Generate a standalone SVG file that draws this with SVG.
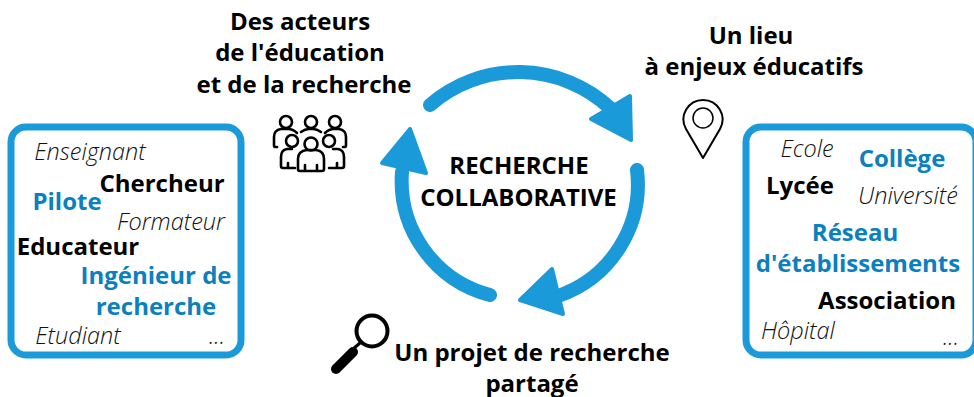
<svg xmlns="http://www.w3.org/2000/svg" width="974" height="397" viewBox="0 0 974 397">
<style>
text{font-family:"Open Sans","Liberation Sans",sans-serif;text-anchor:middle}
.b{font-weight:700;font-size:24px;fill:#000}
.p{font-weight:700;font-size:24px;fill:#0b80bf}
.i{font-weight:300;font-style:italic;font-size:23.500px;fill:#111}
.box{fill:#fff;stroke:#1b9ad9;stroke-width:7}
.arc{fill:none;stroke:#1b9ad9;stroke-width:14;stroke-linecap:round}
.head{fill:#1b9ad9;stroke:#1b9ad9;stroke-width:4;stroke-linejoin:round}
.ico{fill:none;stroke:#000;stroke-width:2.600;stroke-linejoin:round;stroke-linecap:round}
</style>
<g id="connectors">
<path class="arc" d="M430 105A135 135 0 0 1 610 108"/>
<polygon class="head" points="630,96 591,119 631,140"/>
<path class="arc" d="M637 170A118 118 0 0 1 558 296"/>
<polygon class="head" points="552,269 520,300 563,314"/>
<path class="arc" d="M490 295A118 118 0 0 1 402 172"/>
<polygon class="head" points="410,129 382,163 426,173"/>
</g>
<g id="center"><text class="b" x="519" y="174">RECHERCHE</text><text class="b" x="518.500" y="206">COLLABORATIVE</text></g>
<g id="acteurs-title"><text class="b" x="300" y="30">Des acteurs</text><text class="b" x="300" y="61">de l'éducation</text><text class="b" x="304" y="93">et de la recherche</text></g>
<g id="lieu-title"><text class="b" x="751" y="44">Un lieu</text><text class="b" x="754" y="75">à enjeux éducatifs</text></g>
<g id="projet-title"><text class="b" x="532" y="361">Un projet de recherche</text><text class="b" x="532" y="391.500">partagé</text></g>
<g id="people-icon" class="ico">
<circle cx="286" cy="122" r="6"/><circle cx="311" cy="122" r="6"/><circle cx="335" cy="122" r="6"/>
<path d="M277 147h-2q-1 0-1-2v-8q0-7 7-8h7q5 0 9 4M301 132q4-3 8-3h4q4 0 8 3M325 133q4-4 9-4h5q7 1 7 8v8q0 2-1 2h-2"/>
<circle cx="292" cy="141" r="6"/><circle cx="311" cy="144" r="6.500"/><circle cx="329" cy="141" r="6"/>
<path d="M295 168h-12q-2 0-2-2v-9q0-7 6-8h5M342 168q2 0 2-2v-9q0-7-6-8h-5M342 168h-13M288 168v-5M337 168v-5"/>
<path d="M300 171q-2 0-2-2v-10q0-8 9-9h9q8 1 8 9v10q0 2-2 2zM305 171v-6M317 171v-6"/>
</g>
<g id="pin-icon">
<path class="ico" style="stroke-width:2" d="M703 158L686 129A19.500 19.500 0 1 1 720 129Z"/>
<circle class="ico" style="stroke-width:1.500" cx="703" cy="118" r="10"/>
</g>
<g id="loupe-icon">
<circle cx="372" cy="331" r="15.500" fill="none" stroke="#000" stroke-width="4"/>
<path d="M360 343L353 349" stroke="#000" stroke-width="3" fill="none"/>
<path d="M353 352L336 369" stroke="#000" stroke-width="10" stroke-linecap="round" fill="none"/>
</g>
<g id="acteurs-box">
<rect class="box" x="11" y="127" width="230" height="228" rx="15"/>
<text class="i" x="90" y="160">Enseignant</text>
<text class="b" x="162" y="192">Chercheur</text>
<text class="p" x="67" y="210">Pilote</text>
<text class="i" x="171" y="230">Formateur</text>
<text class="b" x="78" y="255">Educateur</text>
<text class="p" x="156" y="284">Ingénieur de</text>
<text class="p" x="156" y="315">recherche</text>
<text class="i" x="78" y="344">Etudiant</text>
<text class="i" x="217" y="344">...</text>
</g>
<g id="lieu-box">
<rect class="box" x="746" y="127" width="230" height="228" rx="15"/>
<text class="i" x="807" y="157">Ecole</text>
<text class="p" x="902" y="167">Collège</text>
<text class="b" x="800" y="194">Lycée</text>
<text class="i" x="908" y="204">Université</text>
<text class="p" x="855" y="241">Réseau</text>
<text class="p" x="858" y="272">d'établissements</text>
<text class="b" x="887" y="309">Association</text>
<text class="i" x="798" y="339">Hôpital</text>
<text class="i" x="951" y="345">...</text>
</g>
</svg>
